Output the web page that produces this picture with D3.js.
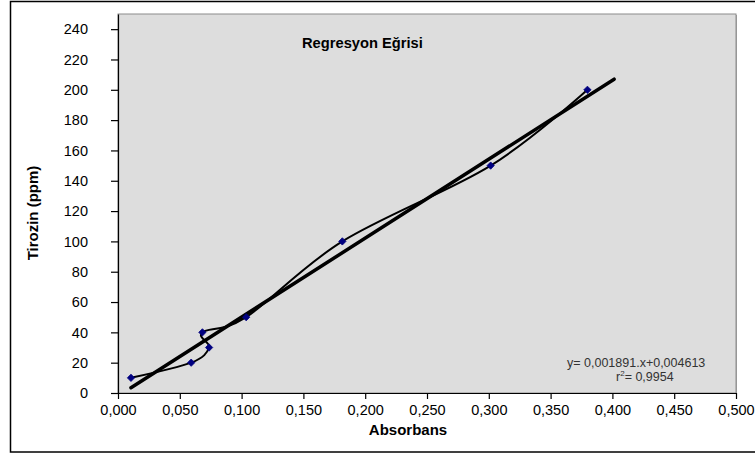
<!DOCTYPE html>
<html>
<head>
<meta charset="utf-8">
<script src="https://cdn.jsdelivr.net/npm/d3@7"></script>
<style>
  body { margin: 0; background: #fff; }
  svg { display: block; font-family: Arial, "Liberation Sans", sans-serif; }
</style>
</head>
<body>
<div id="chart"></div>
<script>
// ölçüm verileri (Absorbans -> Tirozin ppm)
const absorbans = [0.0105, 0.0592, 0.0737, 0.0683, 0.1037, 0.1815, 0.3015, 0.3798];
const tirozin = [10, 20, 30, 40, 50, 100, 150, 200];

// regresyon doğrusu uç noktaları
const trendX = [0.0105, 0.4014];
const trendY = [3.5, 207];

const xTicks = [0, 0.05, 0.1, 0.15, 0.2, 0.25, 0.3, 0.35, 0.4, 0.45, 0.5];
const yTicks = [0, 20, 40, 60, 80, 100, 120, 140, 160, 180, 200, 220, 240];

const chartTitle = 'Regresyon Eğrisi';
const xLabel = 'Absorbans';
const yLabel = 'Tirozin (ppm)';
const equationLines = ['y= 0,001891.x+0,004613', '= 0,9954'];

const W = 755, H = 455;
const plot = { left: 118, top: 14, right: 736, bottom: 393 };

const svg = d3.select('#chart').append('svg')
    .attr('width', W)
    .attr('height', H);

// dış çerçeve
svg.append('rect')
    .attr('x', 10.5).attr('y', 1.5)
    .attr('width', 800).attr('height', 450.5)
    .attr('fill', 'none')
    .attr('stroke', '#000')
    .attr('stroke-width', 1.5);

const x = d3.scaleLinear().domain([0, 0.5]).range([plot.left, plot.right]);
const y = d3.scaleLinear().domain([0, 250]).range([plot.bottom, plot.top]);

// çizim alanı (gölge + zemin)
svg.append('rect')
    .attr('x', plot.left + 1).attr('y', plot.top + 1)
    .attr('width', plot.right - plot.left).attr('height', plot.bottom - plot.top)
    .attr('fill', '#a0a0a0');
svg.append('rect')
    .attr('x', plot.left).attr('y', plot.top)
    .attr('width', plot.right - plot.left).attr('height', plot.bottom - plot.top)
    .attr('fill', '#dddddd')
    .attr('stroke', '#8c8c8c')
    .attr('stroke-width', 1);

const fmt = d => d3.format('.3f')(d).replace('.', ',');

// eksenler
const xAxis = svg.append('g')
    .attr('transform', `translate(0,${plot.bottom})`)
    .call(d3.axisBottom(x).tickValues(xTicks).tickFormat(fmt).tickSize(6).tickSizeOuter(0).tickPadding(6));
const yAxis = svg.append('g')
    .attr('transform', `translate(${plot.left},0)`)
    .call(d3.axisLeft(y).tickValues(yTicks).tickSize(7).tickSizeOuter(0).tickPadding(23));

[xAxis, yAxis].forEach(a => {
    a.select('.domain').attr('stroke', '#000').attr('stroke-width', 1.2);
    a.selectAll('.tick line').attr('stroke', '#000').attr('stroke-width', 1.2);
    a.selectAll('.tick text')
        .attr('fill', '#000')
        .style('font-size', '14.5px')
        .style('font-family', 'Arial, "Liberation Sans", sans-serif');
});

// regresyon doğrusu
svg.append('line')
    .attr('x1', x(trendX[0])).attr('y1', y(trendY[0]))
    .attr('x2', x(trendX[1])).attr('y2', y(trendY[1]))
    .attr('stroke', '#000')
    .attr('stroke-width', 3.5)
    .attr('stroke-linecap', 'round');

// yumuşatılmış veri eğrisi
const pts = absorbans.map((a, i) => [a, tirozin[i]]);
const line = d3.line()
    .x(d => x(d[0]))
    .y(d => y(d[1]))
    .curve(d3.curveCatmullRom.alpha(0));
svg.append('path')
    .datum(pts)
    .attr('d', line)
    .attr('fill', 'none')
    .attr('stroke', '#000')
    .attr('stroke-width', 2);

// işaretçiler
svg.selectAll('.marker')
    .data(pts)
    .enter()
    .append('path')
    .attr('class', 'marker')
    .attr('d', d3.symbol(d3.symbolDiamond2, 34))
    .attr('transform', d => `translate(${x(d[0])},${y(d[1])})`)
    .attr('fill', '#000080')
    .attr('stroke', '#000080')
    .attr('stroke-width', 0.8);

// başlık ve etiketler
svg.append('text')
    .attr('x', 302).attr('y', 48)
    .style('font-size', '14.7px')
    .style('font-weight', 'bold')
    .text(chartTitle);

svg.append('text')
    .attr('x', 408).attr('y', 435)
    .attr('text-anchor', 'middle')
    .style('font-size', '15px')
    .style('font-weight', 'bold')
    .text(xLabel);

svg.append('text')
    .attr('transform', 'translate(38,213) rotate(-90)')
    .attr('text-anchor', 'middle')
    .style('font-size', '15px')
    .style('font-weight', 'bold')
    .text(yLabel);

// denklem
svg.append('text')
    .attr('x', 567).attr('y', 367)
    .attr('fill', '#333')
    .style('font-size', '12.5px')
    .text(equationLines[0]);
const r2 = svg.append('text')
    .attr('x', 616).attr('y', 381)
    .attr('fill', '#333')
    .style('font-size', '12.5px');
r2.append('tspan').text('r');
r2.append('tspan').attr('dy', -5).style('font-size', '8px').text('2');
r2.append('tspan').attr('dy', 5).text(equationLines[1]);
</script>
</body>
</html>
